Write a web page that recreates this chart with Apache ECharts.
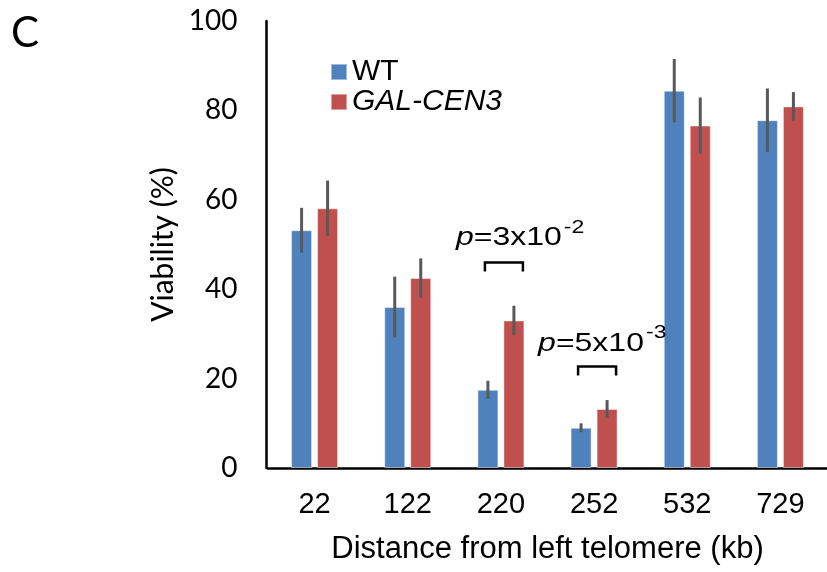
<!DOCTYPE html>
<html>
<head>
<meta charset="utf-8">
<script src="https://cdn.jsdelivr.net/npm/echarts@6/dist/echarts.min.js"></script>
<style>
  html, body { margin: 0; padding: 0; background: #fff; }
  #chart { width: 827px; height: 572px; }
</style>
</head>
<body>
<div id="chart"></div>
<script>
// Distance of the marker from the left telomere (kb)
const categories = ['22', '122', '220', '252', '532', '729'];

// Mean viability (%) and standard deviation per strain
const wtValues  = [53.2, 36.0, 17.5, 9.0, 84.4, 77.8];
const wtErr     = [5.0, 6.8, 2.0, 1.0, 7.1, 7.1];
const galValues = [58.1, 42.5, 33.0, 13.2, 76.6, 80.9];
const galErr    = [6.2, 4.4, 3.3, 2.0, 6.3, 3.2];

const yTicks = [0, 20, 40, 60, 80, 100];

// Significance brackets: category index, bracket height (%), p-value pieces
const brackets = [
  { cat: 2, y: 46.0, mant: '3', exp: '-2', dx: -48, dy: -24 },
  { cat: 3, y: 22.7, mant: '5', exp: '-3', dx: -59, dy: -22.5 }
];

const BLUE = '#4F81BD';
const RED = '#C0504D';
const BAR_W = 21;
const BAR_GAP = 5;
const OFFSET = (BAR_W + BAR_GAP) / 2;

// annotation text is drawn widened horizontally
const FONT_P = 'italic 25px "Liberation Sans"';
const FONT_T = '25px "Liberation Sans"';
const FONT_S = '18px "Liberation Sans"';
const TEXT_SX = 1.28;

const measureCtx = document.createElement('canvas').getContext('2d');
function textWidth(str, font) {
  measureCtx.font = font;
  return measureCtx.measureText(str).width;
}

const chart = echarts.init(document.getElementById('chart'));

function errorSeries(name, values, errs, shift) {
  return {
    name: name + ' err',
    type: 'custom',
    z: 5,
    silent: true,
    data: values.map((v, i) => [i, v - errs[i], v + errs[i]]),
    renderItem: function (params, api) {
      const lo = api.coord([api.value(0), api.value(1)]);
      const hi = api.coord([api.value(0), api.value(2)]);
      const x = lo[0] + shift;
      return {
        type: 'line',
        shape: { x1: x, y1: lo[1], x2: x, y2: hi[1] },
        style: { stroke: '#595959', lineWidth: 3 }
      };
    }
  };
}

const option = {
  backgroundColor: '#fff',
  animation: false,
  grid: { left: 268, right: 0, top: 21, bottom: 104 },
  legend: {
    orient: 'vertical',
    left: 325,
    top: 52,
    itemWidth: 16,
    itemHeight: 16,
    itemGap: 0,
    icon: 'rect',
    data: ['WT', 'GAL-CEN3'],
    formatter: function (name) {
      return name === 'GAL-CEN3' ? '{it|' + name + '}' : '{n|' + name + '}';
    },
    textStyle: {
      rich: {
        n: { fontFamily: 'Liberation Sans', fontSize: 30, lineHeight: 33, color: '#000' },
        it: { fontFamily: 'Liberation Sans', fontSize: 30, lineHeight: 33, fontStyle: 'italic', color: '#000' }
      }
    }
  },
  xAxis: {
    type: 'category',
    data: categories,
    name: 'Distance from left telomere (kb)',
    nameLocation: 'middle',
    nameGap: 66,
    nameTextStyle: { fontFamily: 'Liberation Sans', fontSize: 31, color: '#000' },
    axisLine: { lineStyle: { color: '#000', width: 2.5 } },
    axisTick: { show: false },
    axisLabel: { fontFamily: 'Liberation Sans', fontSize: 29, color: '#000', margin: 22 }
  },
  yAxis: {
    type: 'value',
    min: yTicks[0],
    max: yTicks[yTicks.length - 1],
    interval: 20,
    offset: 1.5,
    name: 'Viability (%)',
    nameLocation: 'middle',
    nameGap: 83,
    nameRotate: 90,
    nameTextStyle: { fontFamily: 'Lato', fontSize: 30, color: '#000' },
    axisLine: { show: true, lineStyle: { color: '#000', width: 2.5 } },
    axisTick: { show: false },
    splitLine: { show: false },
    axisLabel: { fontFamily: 'Lato', fontSize: 28, color: '#000', margin: 29 }
  },
  graphic: [
    {
      type: 'text',
      left: 11,
      top: 12,
      style: { text: 'C', fontFamily: 'Lato', fontSize: 42, fill: '#000' }
    }
  ],
  series: [
    {
      name: 'WT',
      type: 'bar',
      data: wtValues,
      barWidth: BAR_W,
      barGap: (BAR_GAP / BAR_W * 100) + '%',
      itemStyle: { color: BLUE, borderColor: 'rgba(255,255,255,0.45)', borderWidth: 1 }
    },
    {
      name: 'GAL-CEN3',
      type: 'bar',
      data: galValues,
      barWidth: BAR_W,
      itemStyle: { color: RED, borderColor: 'rgba(255,255,255,0.45)', borderWidth: 1 }
    },
    errorSeries('WT', wtValues, wtErr, -OFFSET),
    errorSeries('GAL-CEN3', galValues, galErr, OFFSET),
    {
      name: 'significance',
      type: 'custom',
      silent: true,
      z: 6,
      data: brackets.map(b => [b.cat, b.y]),
      renderItem: function (params, api) {
        const b = brackets[params.dataIndex];
        const p = api.coord([api.value(0), api.value(1)]);
        const cx = p[0] + 3;
        const half = 19;
        const leg = 9;
        const mid = '=' + b.mant + 'x10';
        const x0 = cx + b.dx;
        const yMid = p[1] + b.dy;
        const wP = textWidth('p', FONT_P) * TEXT_SX;
        const wT = textWidth(mid, FONT_T) * TEXT_SX;
        return {
          type: 'group',
          children: [
            {
              type: 'polyline',
              shape: { points: [[cx - half, p[1] + leg], [cx - half, p[1]], [cx + half, p[1]], [cx + half, p[1] + leg]] },
              style: { stroke: '#000', lineWidth: 2.5, fill: null }
            },
            {
              type: 'text',
              x: x0, y: yMid, scaleX: TEXT_SX,
              style: { text: 'p', font: FONT_P, fill: '#000', align: 'left', verticalAlign: 'middle' }
            },
            {
              type: 'text',
              x: x0 + wP, y: yMid, scaleX: TEXT_SX,
              style: { text: mid, font: FONT_T, fill: '#000', align: 'left', verticalAlign: 'middle' }
            },
            {
              type: 'text',
              x: x0 + wP + wT + 2, y: yMid - 10.5, scaleX: TEXT_SX,
              style: { text: b.exp, font: FONT_S, fill: '#000', align: 'left', verticalAlign: 'middle' }
            }
          ]
        };
      }
    }
  ]
};

chart.setOption(option);
</script>
</body>
</html>
